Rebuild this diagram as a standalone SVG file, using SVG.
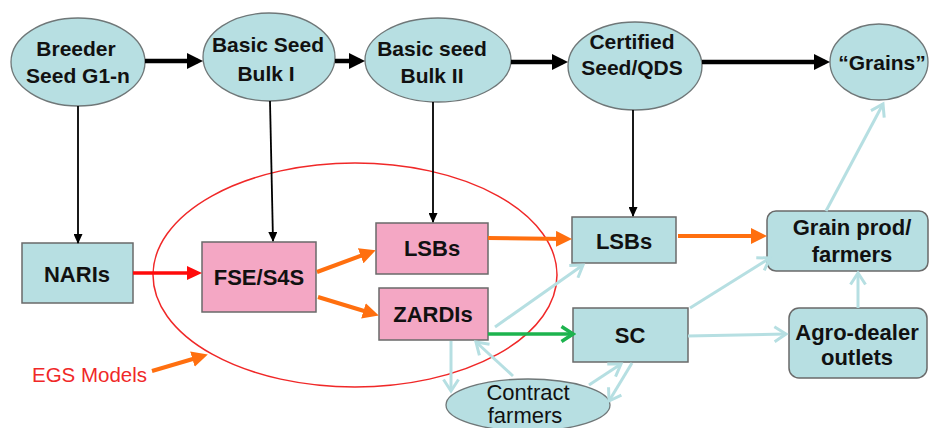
<svg xmlns="http://www.w3.org/2000/svg" width="932" height="428" viewBox="0 0 932 428">
<style>
.el{fill:#b7dfe2;stroke:#6f7778;stroke-width:1.3}
.bx{fill:#b7dfe2;stroke:#6a6a6a;stroke-width:1.5}
.pk{fill:#f4a7c4;stroke:#6a6a6a;stroke-width:1.5}
.t{font-family:"Liberation Sans",Arial,sans-serif;font-weight:bold;font-size:21px;fill:#111;text-anchor:middle}
.tb{font-size:22px}
.tr{font-family:"Liberation Sans",Arial,sans-serif;font-size:22px;fill:#111;text-anchor:middle}
.bk{stroke:#000;stroke-width:4.5;fill:none}
.th{stroke:#000;stroke-width:1.8;fill:none}
.or{stroke:#ff6f0f;stroke-width:4;fill:none}
.rd{stroke:#ff0a0a;stroke-width:3.5;fill:none}
.gr{stroke:#1db34e;stroke-width:3.5;fill:none}
.tl{stroke:#b6dfe2;stroke-width:3;fill:none}
</style>
<defs>
<marker id="mBk" markerUnits="userSpaceOnUse" markerWidth="16" markerHeight="16" refX="11" refY="8" orient="auto"><path d="M0,0 L16,8 L0,16 z" fill="#000"/></marker>
<marker id="mTh" markerUnits="userSpaceOnUse" markerWidth="10" markerHeight="9" refX="9" refY="4.5" orient="auto"><path d="M0,0 L10,4.5 L0,9 z" fill="#000"/></marker>
<marker id="mOr" markerUnits="userSpaceOnUse" markerWidth="16" markerHeight="16" refX="11" refY="8" orient="auto"><path d="M0,0 L16,8 L0,16 z" fill="#ff6f0f"/></marker>
<marker id="mRd" markerUnits="userSpaceOnUse" markerWidth="15" markerHeight="14" refX="10" refY="7" orient="auto"><path d="M0,0 L15,7 L0,14 z" fill="#ff0a0a"/></marker>
<marker id="mGr" markerUnits="userSpaceOnUse" markerWidth="16" markerHeight="18" refX="13" refY="9" orient="auto"><path d="M1.5,1.5 L13,9 L1.5,16.5" fill="none" stroke="#1db34e" stroke-width="3.5"/></marker>
<marker id="mTl" markerUnits="userSpaceOnUse" markerWidth="16" markerHeight="18" refX="13" refY="9" orient="auto"><path d="M1.5,1.5 L13,9 L1.5,16.5" fill="none" stroke="#b6dfe2" stroke-width="3"/></marker>
</defs>

<g id="n-breeder"><ellipse class="el" cx="78" cy="62" rx="67" ry="44"/><text class="t" x="76" y="56">Breeder</text><text class="t" x="78" y="83">Seed G1-n</text></g>
<g id="n-basic1"><ellipse class="el" cx="269" cy="57" rx="66" ry="44"/><text class="t" x="268" y="52">Basic Seed</text><text class="t" x="266" y="81">Bulk I</text></g>
<g id="n-basic2"><ellipse class="el" cx="438" cy="60" rx="73" ry="42"/><text class="t" x="432" y="56">Basic seed</text><text class="t" x="432" y="83">Bulk II</text></g>
<g id="n-certified"><ellipse class="el" cx="635" cy="66" rx="67" ry="44"/><text class="t" x="632" y="49">Certified</text><text class="t" x="632" y="75">Seed/QDS</text></g>
<g id="n-grains"><ellipse class="el" cx="879" cy="62" rx="49" ry="38"/><text class="t" x="882" y="70">“Grains”</text></g>

<g id="n-naris"><rect class="bx" x="22" y="243" width="111" height="60"/><text class="t tb" x="77" y="282">NARIs</text></g>
<g id="n-fse"><rect class="pk" x="202" y="242" width="114" height="70"/><text class="t tb" x="259" y="285">FSE/S4S</text></g>
<g id="n-lsbs1"><rect class="pk" x="376" y="223" width="112" height="51"/><text class="t tb" x="432" y="256">LSBs</text></g>
<g id="n-zardis"><rect class="pk" x="379" y="288" width="109" height="52"/><text class="t tb" x="433" y="322">ZARDIs</text></g>
<g id="n-lsbs2"><rect class="bx" x="572" y="217" width="104" height="46"/><text class="t tb" x="624" y="249">LSBs</text></g>
<g id="n-sc"><rect class="bx" x="573" y="308" width="115" height="54"/><text class="t tb" x="630" y="343">SC</text></g>
<g id="n-grainprod"><rect class="bx" x="767" y="211" width="161" height="60" rx="9"/><text class="t tb" x="852" y="235">Grain prod/</text><text class="t tb" x="852" y="262">farmers</text></g>
<g id="n-agro"><rect class="bx" x="789" y="308" width="138" height="70" rx="10"/><text class="t tb" x="857" y="340">Agro-dealer</text><text class="t tb" x="857" y="365">outlets</text></g>
<g id="n-contract"><ellipse class="el" cx="528" cy="405" rx="82" ry="26"/><text class="tr" x="528" y="400">Contract</text><text class="tr" x="525" y="423">farmers</text></g>

<g id="n-egs"><ellipse cx="355" cy="275" rx="202" ry="112" fill="none" stroke="#f02828" stroke-width="1.5"/><text x="32" y="382" font-family="'Liberation Sans',Arial,sans-serif" font-size="20.5" fill="#f02828">EGS Models</text></g>

<g id="connectors">
<line class="bk" x1="145" y1="61" x2="198" y2="61" marker-end="url(#mBk)"/>
<line class="bk" x1="335" y1="61" x2="360" y2="61" marker-end="url(#mBk)"/>
<line class="bk" x1="511" y1="62" x2="563" y2="62" marker-end="url(#mBk)"/>
<line class="bk" x1="702" y1="62" x2="825" y2="62" marker-end="url(#mBk)"/>

<line class="th" x1="78" y1="106" x2="78" y2="243" marker-end="url(#mTh)"/>
<line class="th" x1="270" y1="101" x2="273" y2="241" marker-end="url(#mTh)"/>
<line class="th" x1="433" y1="102" x2="433" y2="222" marker-end="url(#mTh)"/>
<line class="th" x1="633" y1="110" x2="633" y2="216" marker-end="url(#mTh)"/>

<line class="rd" x1="133" y1="273" x2="197" y2="273" marker-end="url(#mRd)"/>
<line class="or" x1="317" y1="272" x2="371" y2="252" marker-end="url(#mOr)"/>
<line class="or" x1="318" y1="297" x2="374" y2="314" marker-end="url(#mOr)"/>
<line class="or" x1="488" y1="238" x2="567" y2="239" marker-end="url(#mOr)"/>
<line class="or" x1="678" y1="236" x2="762" y2="236" marker-end="url(#mOr)"/>
<line class="or" x1="152" y1="371" x2="203" y2="356" marker-end="url(#mOr)"/>
<line class="gr" x1="488" y1="334" x2="573" y2="334" marker-end="url(#mGr)"/>

<line class="tl" x1="495" y1="327" x2="583" y2="265" marker-end="url(#mTl)"/>
<line class="tl" x1="451" y1="341" x2="451" y2="391" marker-end="url(#mTl)"/>
<line class="tl" x1="513" y1="376" x2="476" y2="342" marker-end="url(#mTl)"/>
<line class="tl" x1="589" y1="385" x2="621" y2="364" marker-end="url(#mTl)"/>
<line class="tl" x1="632" y1="363" x2="609" y2="401" marker-end="url(#mTl)"/>
<line class="tl" x1="690" y1="308" x2="770" y2="258" marker-end="url(#mTl)"/>
<line class="tl" x1="688" y1="336" x2="786" y2="334" marker-end="url(#mTl)"/>
<line class="tl" x1="858" y1="308" x2="858" y2="273" marker-end="url(#mTl)"/>
<line class="tl" x1="826" y1="211" x2="883" y2="104" marker-end="url(#mTl)"/>
</g>
</svg>
